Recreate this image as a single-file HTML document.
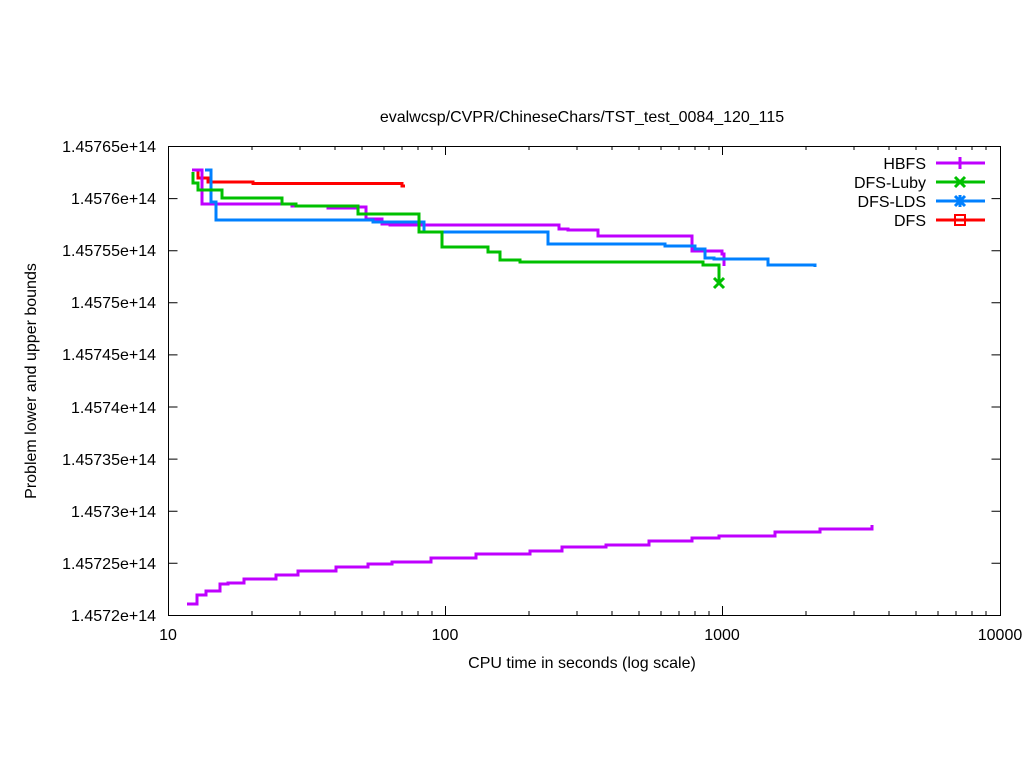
<!DOCTYPE html>
<html><head><meta charset="utf-8"><style>body{margin:0;background:#fff}svg{display:block}text{font-family:"Liberation Sans",Arial,sans-serif;font-size:16px;fill:#000}</style></head><body>
<svg width="1024" height="768" viewBox="0 0 1024 768">
<rect width="1024" height="768" fill="#fff"/>
<text x="582" y="122" text-anchor="middle">evalwcsp/CVPR/ChineseChars/TST_test_0084_120_115</text>
<g stroke="#000" stroke-width="1" fill="none">
<rect x="168.5" y="146.5" width="832" height="469"/>
<path d="M168.5 146.5h9M168.5 198.6h9M168.5 250.7h9M168.5 302.8h9M168.5 354.9h9M168.5 407h9M168.5 459.1h9M168.5 511.2h9M168.5 563.3h9M1000.5 146.5h-9M1000.5 198.6h-9M1000.5 250.7h-9M1000.5 302.8h-9M1000.5 354.9h-9M1000.5 407h-9M1000.5 459.1h-9M1000.5 511.2h-9M1000.5 563.3h-9"/>
<path d="M445.5 615v-9M722.5 615v-9M445.5 146v9M722.5 146v9"/>
<path d="M252 615v-4M300 615v-4M335 615v-4M362 615v-4M384 615v-4M402 615v-4M418 615v-4M432 615v-4M529 615v-4M577 615v-4M612 615v-4M639 615v-4M661 615v-4M679 615v-4M695 615v-4M709 615v-4M806 615v-4M854 615v-4M889 615v-4M916 615v-4M938 615v-4M956 615v-4M972 615v-4M986 615v-4"/>
<path d="M252 146v4M300 146v4M335 146v4M362 146v4M384 146v4M402 146v4M418 146v4M432 146v4M529 146v4M577 146v4M612 146v4M639 146v4M661 146v4M679 146v4M695 146v4M709 146v4M806 146v4M854 146v4M889 146v4M916 146v4M938 146v4M956 146v4M972 146v4M986 146v4"/>
</g>
<g text-anchor="end">
<text x="156" y="152">1.45765e+14</text><text x="156" y="204">1.4576e+14</text><text x="156" y="256">1.45755e+14</text><text x="156" y="308">1.4575e+14</text><text x="156" y="360">1.45745e+14</text><text x="156" y="413">1.4574e+14</text><text x="156" y="465">1.45735e+14</text><text x="156" y="517">1.4573e+14</text><text x="156" y="569">1.45725e+14</text><text x="156" y="621">1.4572e+14</text>
</g>
<g text-anchor="middle">
<text x="168" y="640">10</text><text x="445" y="640">100</text><text x="722" y="640">1000</text><text x="1000" y="640">10000</text>
<text x="582" y="668">CPU time in seconds (log scale)</text>
</g>
<text transform="translate(36,381) rotate(-90)" text-anchor="middle">Problem lower and upper bounds</text>
<g fill="none" stroke-width="3">
<path stroke="#ff0000" d="M198 171V178H208V182H253V183.5H402V186H405"/>
<path stroke="#bf00ff" d="M192 170H202V204H292V206H328V208H358V207H366V219H382V224H390V225H559V229H568V230H598V236H692V251H722V254H724V266"/>
<path stroke="#0080ff" d="M205 170H211V202H216V220H373V222H424V232H548V244H665V246H695V249H705V258H714V259H768V265H815V267"/>
<path stroke="#00c000" d="M193 172V183H198V190H222V198H282V204H296V206H358V214H419V232H442V247H488V252H500V260H520V262H703V265H719V283"/>
<path stroke="#bf00ff" d="M187 604H197V595H206V591H220V584H228V583H244V579H276V575H298V571H336V567H368V564H392V562H431V558H476V554H530V551H562V547H606V545H649V541H692V538H719V536H775V532H820V529H872V525"/>
</g>
<path d="M714 278l10 10M724 278l-10 10" stroke="#00c000" stroke-width="3"/>
<g text-anchor="end">
<text x="926" y="169">HBFS</text><text x="926" y="188">DFS-Luby</text><text x="926" y="207">DFS-LDS</text><text x="926" y="226">DFS</text>
</g>
<g stroke-width="3" fill="none">
<path stroke="#bf00ff" d="M936 163H985M960 157V169"/>
<path stroke="#00c000" d="M936 182H985M955 177l10 10M965 177l-10 10"/>
<path stroke="#0080ff" d="M936 201H985M955 196l10 10M965 196l-10 10M960 195V207"/>
<path stroke="#ff0000" d="M936 220H985"/>
<rect x="955" y="215" width="10" height="10" stroke="#ff0000" stroke-width="2"/>
</g>
</svg>
</body></html>
